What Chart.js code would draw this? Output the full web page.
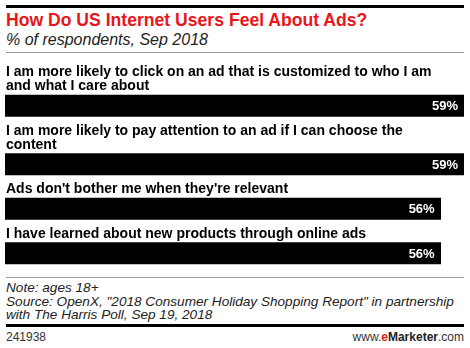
<!DOCTYPE html>
<html>
<head>
<meta charset="utf-8">
<script src="https://cdn.jsdelivr.net/npm/chart.js@4"></script>
<style>
  body { margin: 0; background: #fff; }
  #wrap { position: relative; width: 470px; height: 348px; background: #fff; font-family: 'Liberation Sans', Arial, sans-serif; overflow: hidden; }
  #wrap div { position: absolute; white-space: nowrap; }
  .rule { left: 6px; width: 458px; }
  #title { left: 6px; top: 10px; font-size: 17.6px; line-height: 20px; font-weight: bold; color: #e8161b; }
  #subtitle { left: 6px; top: 30px; font-size: 16px; line-height: 20px; font-style: italic; color: #222; }
  #notes { left: 6px; top: 281px; font-size: 13.6px; line-height: 13.5px; font-style: italic; color: #222; }
  #code { left: 6px; top: 330px; font-size: 12px; line-height: 14px; color: #333; }
  #brand { right: 6px; top: 330px; font-size: 12px; line-height: 14px; color: #333; }
  #chart { position: absolute; left: 0; top: 58px; }
</style>
</head>
<body>
<div id="wrap">
  <div class="rule" style="top:5px;height:3px;background:#000"></div>
  <div id="title">How Do US Internet Users Feel About Ads?</div>
  <div id="subtitle">% of respondents, Sep 2018</div>
  <div class="rule" style="top:52px;height:1px;background:#999"></div>
  <canvas id="chart" width="470" height="210"></canvas>
  <div class="rule" style="top:277px;height:1px;background:#999"></div>
  <div id="notes">Note: ages 18+<br>Source: OpenX, "2018 Consumer Holiday Shopping Report" in partnership<br>with The Harris Poll, Sep 19, 2018</div>
  <div class="rule" style="top:324px;height:3px;background:#000"></div>
  <div id="code">241938</div>
  <div id="brand">www.<b style="color:#e8161b">e</b><b style="color:#222">Marketer</b>.com</div>
</div>
<script>
var categories = [
    ['I am more likely to click on an ad that is customized to who I am', 'and what I care about'],
    ['I am more likely to pay attention to an ad if I can choose the', 'content'],
    ["Ads don't bother me when they're relevant"],
    ['I have learned about new products through online ads']
];
var values = [59, 59, 56, 56];

var barH = 21.5, lineH = 14;

// rows get taller when the label wraps, so bars sit on a linear y scale
var centers = [];
var rowTop = 0;
categories.forEach(function (lines) {
    var barTop = rowTop + 9 + lines.length * lineH;
    centers.push(barTop + barH / 2);
    rowTop = barTop + barH;
});

var labelPlugin = {
    id: 'labels',
    afterDatasetsDraw: function (chart) {
        var ctx = chart.ctx;
        var bars = chart.getDatasetMeta(0).data;
        ctx.save();
        bars.forEach(function (bar, i) {
            var lines = categories[i];
            var top = bar.y - barH / 2;
            ctx.fillStyle = '#000';
            ctx.font = 'bold 14px "Liberation Sans", Arial, sans-serif';
            ctx.textAlign = 'left';
            ctx.textBaseline = 'alphabetic';
            lines.forEach(function (line, j) {
                ctx.fillText(line, chart.chartArea.left + 1, top - 5 - (lines.length - 1 - j) * lineH);
            });
            ctx.fillStyle = '#fff';
            ctx.font = 'bold 13px "Liberation Sans", Arial, sans-serif';
            ctx.textAlign = 'right';
            ctx.textBaseline = 'middle';
            ctx.fillText(values[i] + '%', bar.x - 6, bar.y + 1);
        });
        ctx.restore();
    }
};

var ctx = document.getElementById('chart').getContext('2d');

var chart = new Chart(ctx, {
    type: 'bar',
    data: {
        labels: categories.map(function (c) { return c.join(' '); }),
        datasets: [{
            data: values.map(function (v, i) { return { x: v, y: centers[i] }; }),
            backgroundColor: '#000',
            borderWidth: 0,
            barThickness: barH
        }]
    },
    options: {
        indexAxis: 'y',
        responsive: false,
        animation: false,
        layout: { padding: { left: 5, right: 6, top: 0, bottom: 0 } },
        plugins: { legend: { display: false }, tooltip: { enabled: false } },
        scales: {
            x: { type: 'linear', min: 0, max: 59, display: false },
            y: { type: 'linear', min: 0, max: 210, reverse: true, offset: false, display: false }
        }
    },
    plugins: [labelPlugin]
});
</script>
</body>
</html>
